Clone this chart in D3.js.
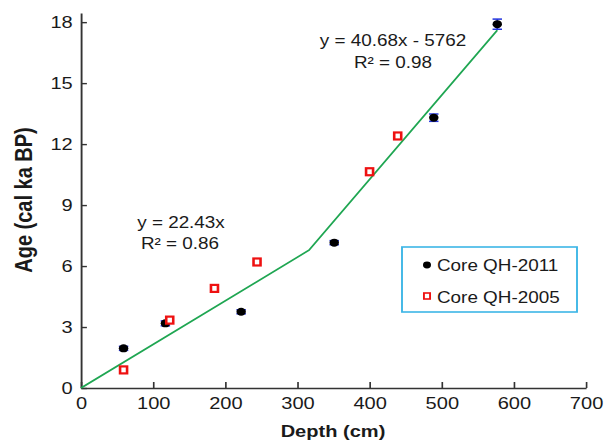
<!DOCTYPE html>
<html>
<head>
<meta charset="utf-8">
<script src="https://cdn.jsdelivr.net/npm/d3@7"></script>
<style>
	body { margin: 0; background: #fff; }
	svg { display: block; font-family: "Liberation Sans", Arial, sans-serif; }
</style>
</head>
<body>
<div id="chart"></div>
<script>
// data (depth in cm, age in cal ka BP)
const depth2011 = [59, 117, 222, 351, 489, 577]
const age2011 = [1.95, 3.18, 3.75, 7.15, 13.3, 17.9]
const err2011 = [0.1, 0.12, 0.1, 0.1, 0.18, 0.25]
const depth2005 = [59, 123, 185, 244, 400, 439]
const age2005 = [0.89, 3.34, 4.9, 6.2, 10.64, 12.4]
const fitDepth = [0, 316, 577]
const fitAge = [0, 6.78, 17.6]
const xTicks = [0, 100, 200, 300, 400, 500, 600, 700]
const yTicks = [0, 3, 6, 9, 12, 15, 18]
const legendLabels = ["Core QH-2011", "Core QH-2005"]

// the original picture is stretched sideways, so draw narrow and stretch the svg
const S = 1.18
const width = 612, height = 441
const vw = width / S

const svg = d3.select("#chart").append("svg")
	.attr("width", width)
	.attr("height", height)
	.attr("viewBox", [0, 0, vw, height])
	.attr("preserveAspectRatio", "none")

const x = d3.scaleLinear().domain([0, 700]).range([81 / S, 586 / S])
const y = d3.scaleLinear().domain([0, 18.45]).range([388, 13])

const xAxis = g => g.attr("transform", `translate(0,${y(0)})`)
	.call(d3.axisBottom(x).tickValues(xTicks).tickSizeInner(-6).tickSizeOuter(0).tickPadding(9))
const yAxis = g => g.attr("transform", `translate(${x(0)},0)`)
	.call(d3.axisLeft(y).tickValues(yTicks).tickSizeInner(-5).tickSizeOuter(0).tickPadding(7))

svg.append("g").attr("class", "x-axis").call(xAxis)
svg.append("g").attr("class", "y-axis").call(yAxis)

svg.selectAll(".x-axis, .y-axis")
	.call(g => g.selectAll(".domain").attr("stroke", "#333").attr("stroke-width", 1.6))
	.call(g => g.selectAll(".tick line").attr("stroke", "#333").attr("stroke-width", 1.4))
	.call(g => g.selectAll(".tick text").attr("font-size", 17).attr("fill", "#1a1a1a")
		.attr("font-family", "Liberation Sans, Arial, sans-serif"))

// axis titles
svg.append("text")
	.attr("x", 333 / S).attr("y", 437)
	.attr("text-anchor", "middle")
	.attr("font-size", 17).attr("font-weight", "bold").attr("fill", "#1a1a1a")
	.text("Depth (cm)")

svg.append("text")
	.attr("transform", `translate(${32 / S},200) rotate(-90)`)
	.attr("text-anchor", "middle")
	.attr("font-size", 20).attr("font-weight", "bold").attr("fill", "#1a1a1a")
	.text("Age (cal ka BP)")

// piecewise regression line
const fit = fitDepth.map((d, i) => ({ depth: d, age: fitAge[i] }))
svg.append("path")
	.datum(fit)
	.attr("fill", "none")
	.attr("stroke", "#1fa652")
	.attr("stroke-width", 1.6)
	.attr("d", d3.line().x(d => x(d.depth)).y(d => y(d.age)))

// error bars for QH-2011
const core2011 = depth2011.map((d, i) => ({ depth: d, age: age2011[i], err: err2011[i] }))
const bars = svg.append("g").attr("class", "errors")
	.attr("stroke", "#2233dd").attr("stroke-width", 1.5)
bars.selectAll("line.v").data(core2011).join("line").attr("class", "v")
	.attr("x1", d => x(d.depth)).attr("x2", d => x(d.depth))
	.attr("y1", d => y(d.age - d.err)).attr("y2", d => y(d.age + d.err))
bars.selectAll("line.top").data(core2011).join("line").attr("class", "top")
	.attr("x1", d => x(d.depth) - 4).attr("x2", d => x(d.depth) + 4)
	.attr("y1", d => y(d.age + d.err)).attr("y2", d => y(d.age + d.err))
bars.selectAll("line.bot").data(core2011).join("line").attr("class", "bot")
	.attr("x1", d => x(d.depth) - 4).attr("x2", d => x(d.depth) + 4)
	.attr("y1", d => y(d.age - d.err)).attr("y2", d => y(d.age - d.err))

svg.append("g").selectAll("circle").data(core2011).join("circle")
	.attr("cx", d => x(d.depth)).attr("cy", d => y(d.age))
	.attr("r", 4).attr("fill", "#000")

// QH-2005 open squares
const core2005 = depth2005.map((d, i) => ({ depth: d, age: age2005[i] }))
const sw = 7 / S, sh = 7
svg.append("g").selectAll("rect").data(core2005).join("rect")
	.attr("x", d => x(d.depth) - sw / 2).attr("y", d => y(d.age) - sh / 2)
	.attr("width", sw).attr("height", sh)
	.attr("fill", "#fff").attr("stroke", "#ee1111").attr("stroke-width", 2.2)

// regression labels
const notes = [
	{ t: "y = 22.43x", cx: 181, by: 228 },
	{ t: "R² = 0.86", cx: 180, by: 249 },
	{ t: "y = 40.68x - 5762", cx: 393, by: 46 },
	{ t: "R² = 0.98", cx: 393, by: 68 }
]
svg.append("g").selectAll("text").data(notes).join("text")
	.attr("x", d => d.cx / S).attr("y", d => d.by)
	.attr("text-anchor", "middle").attr("font-size", 16).attr("fill", "#1a1a1a")
	.text(d => d.t)

// legend
const legend = svg.append("g").attr("class", "legend")
legend.append("rect")
	.attr("x", 402 / S).attr("y", 247)
	.attr("width", 175 / S).attr("height", 65)
	.attr("fill", "#fff").attr("stroke", "#3db6e6").attr("stroke-width", 1.6)
legend.append("circle")
	.attr("cx", 427 / S).attr("cy", 265).attr("r", 3.4).attr("fill", "#000")
legend.append("rect")
	.attr("x", 427 / S - 2.6).attr("y", 293)
	.attr("width", 5.2).attr("height", 6)
	.attr("fill", "#fff").attr("stroke", "#ee1111").attr("stroke-width", 1.6)
legend.selectAll("text").data(legendLabels).join("text")
	.attr("x", 437 / S).attr("y", (d, i) => 271 + i * 32)
	.attr("font-size", 16).attr("fill", "#1a1a1a")
	.text(d => d)
</script>
</body>
</html>
